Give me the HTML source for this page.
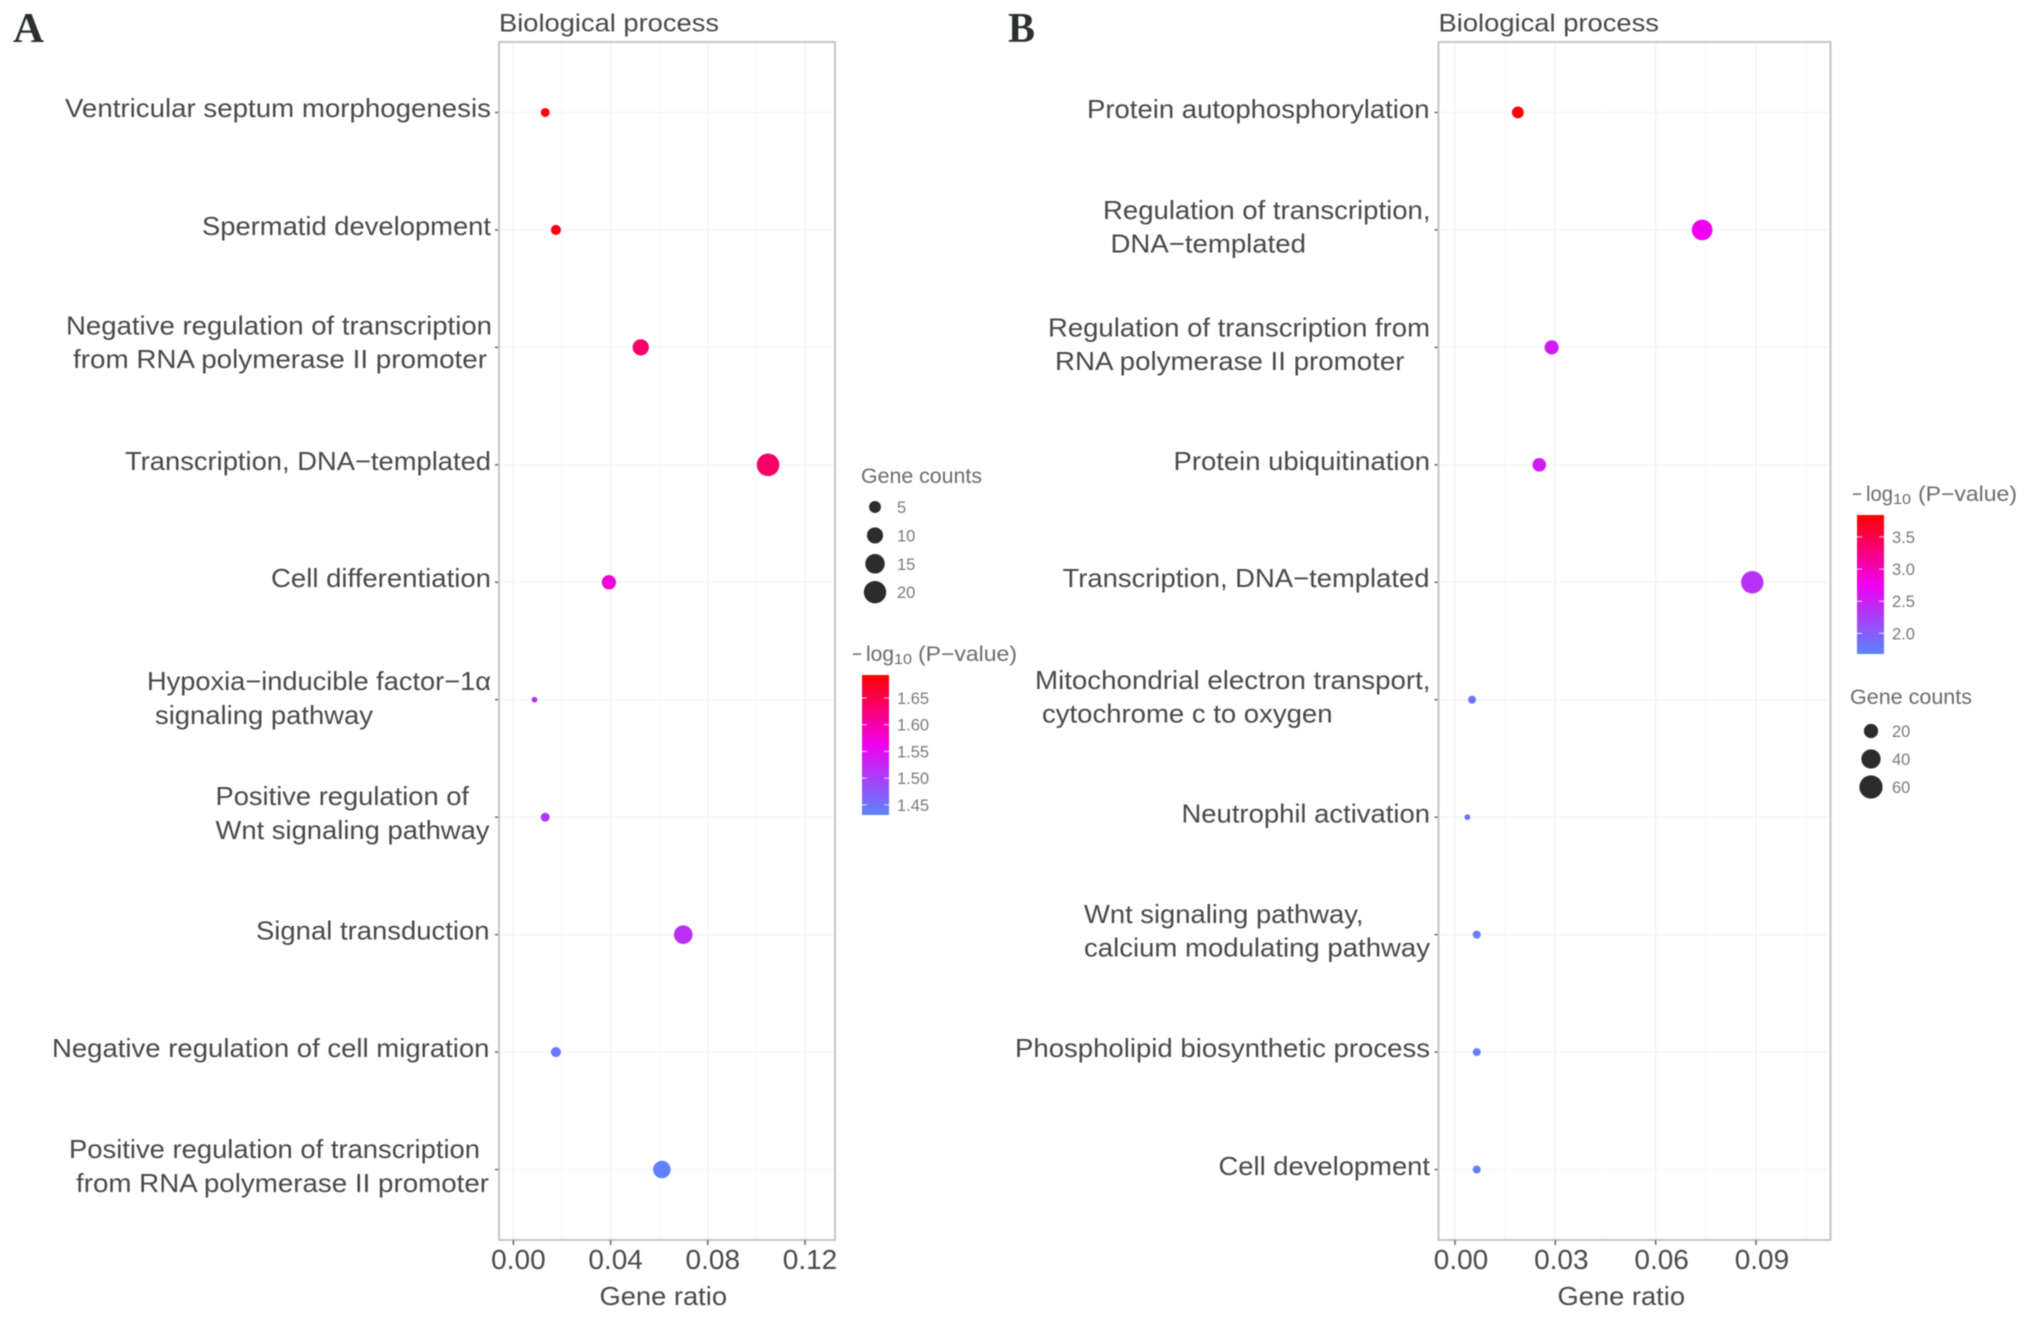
<!DOCTYPE html>
<html lang="en">
<head>
<meta charset="utf-8">
<title>Biological process dot plots</title>
<style>
html,body{margin:0;padding:0;background:#fff;}
svg{display:block;}
text{font-family:"Liberation Sans",sans-serif;}
.cat{font-size:26px;fill:#474a4a;}
.axt{font-size:26px;fill:#474a4a;}
.title{font-size:25px;fill:#474a4a;}
.leg{font-size:21px;fill:#6b6b6b;}
.panel-letter{font-family:"Liberation Serif",serif;font-weight:bold;font-size:42px;fill:#2b2f2f;}
</style>
</head>
<body>
<svg id="chart" xmlns="http://www.w3.org/2000/svg" width="2031" height="1319" viewBox="0 0 2031 1319">
<defs>
<linearGradient id="gradA" x1="0" y1="1" x2="0" y2="0"><stop offset="0" stop-color="#5b84ff"/><stop offset="0.5" stop-color="#f000f0"/><stop offset="1" stop-color="#ff0000"/></linearGradient>
<linearGradient id="gradB" x1="0" y1="1" x2="0" y2="0"><stop offset="0" stop-color="#5b84ff"/><stop offset="0.5" stop-color="#f000f0"/><stop offset="1" stop-color="#ff0000"/></linearGradient>
</defs>
<rect x="0" y="0" width="2031" height="1319" fill="#ffffff"/>
<g id="root" style="filter:blur(0.6px)">
<text class="panel-letter" x="13" y="42" textLength="31" lengthAdjust="spacingAndGlyphs">A</text>
<text class="panel-letter" x="1008" y="42" textLength="27" lengthAdjust="spacingAndGlyphs">B</text>

<text class="title" x="499" y="31.5" textLength="220" lengthAdjust="spacingAndGlyphs">Biological process</text>
<text class="title" x="1438.5" y="31.5" textLength="220.5" lengthAdjust="spacingAndGlyphs">Biological process</text>

<g id="panelA"></g>
<g id="panelB"></g>

<g>
<text class="cat" x="65" y="117" textLength="426" lengthAdjust="spacingAndGlyphs">Ventricular septum morphogenesis</text>
<text class="cat" x="202" y="235" textLength="289" lengthAdjust="spacingAndGlyphs">Spermatid development</text>
<text class="cat" x="66" y="334.5" textLength="426" lengthAdjust="spacingAndGlyphs">Negative regulation of transcription</text>
<text class="cat" x="73" y="368" textLength="414" lengthAdjust="spacingAndGlyphs">from RNA polymerase II promoter</text>
<text class="cat" x="125" y="470" textLength="366" lengthAdjust="spacingAndGlyphs">Transcription, DNA−templated</text>
<text class="cat" x="271" y="587" textLength="220" lengthAdjust="spacingAndGlyphs">Cell differentiation</text>
<text class="cat" x="147" y="690" textLength="344" lengthAdjust="spacingAndGlyphs">Hypoxia−inducible factor−1α</text>
<text class="cat" x="155" y="724" textLength="218" lengthAdjust="spacingAndGlyphs">signaling pathway</text>
<text class="cat" x="215.5" y="805" textLength="253.5" lengthAdjust="spacingAndGlyphs">Positive regulation of</text>
<text class="cat" x="215.5" y="839" textLength="274" lengthAdjust="spacingAndGlyphs">Wnt signaling pathway</text>
<text class="cat" x="256" y="939.5" textLength="233.5" lengthAdjust="spacingAndGlyphs">Signal transduction</text>
<text class="cat" x="52" y="1057" textLength="437.5" lengthAdjust="spacingAndGlyphs">Negative regulation of cell migration</text>
<text class="cat" x="69" y="1158" textLength="411" lengthAdjust="spacingAndGlyphs">Positive regulation of transcription</text>
<text class="cat" x="76" y="1192" textLength="413" lengthAdjust="spacingAndGlyphs">from RNA polymerase II promoter</text>
</g>

<g>
<text class="cat" x="1087" y="118" textLength="342.5" lengthAdjust="spacingAndGlyphs">Protein autophosphorylation</text>
<text class="cat" x="1103" y="219" textLength="327.5" lengthAdjust="spacingAndGlyphs">Regulation of transcription,</text>
<text class="cat" x="1110.5" y="252.5" textLength="195.5" lengthAdjust="spacingAndGlyphs">DNA−templated</text>
<text class="cat" x="1048" y="336.5" textLength="382" lengthAdjust="spacingAndGlyphs">Regulation of transcription from</text>
<text class="cat" x="1055" y="370" textLength="349.5" lengthAdjust="spacingAndGlyphs">RNA polymerase II promoter</text>
<text class="cat" x="1173.5" y="470" textLength="256.5" lengthAdjust="spacingAndGlyphs">Protein ubiquitination</text>
<text class="cat" x="1062.5" y="587" textLength="367" lengthAdjust="spacingAndGlyphs">Transcription, DNA−templated</text>
<text class="cat" x="1035" y="689" textLength="395.5" lengthAdjust="spacingAndGlyphs">Mitochondrial electron transport,</text>
<text class="cat" x="1042" y="722.5" textLength="290.5" lengthAdjust="spacingAndGlyphs">cytochrome c to oxygen</text>
<text class="cat" x="1181.5" y="822.5" textLength="248.5" lengthAdjust="spacingAndGlyphs">Neutrophil activation</text>
<text class="cat" x="1084" y="923" textLength="279.5" lengthAdjust="spacingAndGlyphs">Wnt signaling pathway,</text>
<text class="cat" x="1084" y="956.5" textLength="346" lengthAdjust="spacingAndGlyphs">calcium modulating pathway</text>
<text class="cat" x="1015" y="1057" textLength="415" lengthAdjust="spacingAndGlyphs">Phospholipid biosynthetic process</text>
<text class="cat" x="1218.5" y="1175" textLength="211.5" lengthAdjust="spacingAndGlyphs">Cell development</text>
</g>

<text class="axt" x="599.5" y="1305" textLength="127.5" lengthAdjust="spacingAndGlyphs">Gene ratio</text>
<text class="axt" x="1557.5" y="1305" textLength="127.5" lengthAdjust="spacingAndGlyphs">Gene ratio</text>

<text class="leg" x="861" y="483" textLength="121" lengthAdjust="spacingAndGlyphs">Gene counts</text>
<g>
<text class="leg" x="852" y="661" textLength="10" lengthAdjust="spacingAndGlyphs">−</text>
<text class="leg" x="866" y="661" textLength="28" lengthAdjust="spacingAndGlyphs">log</text>
<text class="leg" x="894" y="664" textLength="18" lengthAdjust="spacingAndGlyphs" style="font-size:15px">10</text>
<text class="leg" x="918" y="661" textLength="99" lengthAdjust="spacingAndGlyphs">(P−value)</text>
</g>

<g>
<text class="leg" x="1852" y="501" textLength="10" lengthAdjust="spacingAndGlyphs">−</text>
<text class="leg" x="1866" y="501" textLength="27" lengthAdjust="spacingAndGlyphs">log</text>
<text class="leg" x="1893" y="504" textLength="18" lengthAdjust="spacingAndGlyphs" style="font-size:15px">10</text>
<text class="leg" x="1918" y="501" textLength="99" lengthAdjust="spacingAndGlyphs">(P−value)</text>
</g>
<text class="leg" x="1850" y="704" textLength="122" lengthAdjust="spacingAndGlyphs">Gene counts</text>

<g id="legendA"></g>
<g id="legendB"></g>
</g>
</svg>

<script>
/* Panel A data */
const categoriesA = ["Ventricular septum morphogenesis","Spermatid development","Negative regulation of transcription from RNA polymerase II promoter","Transcription, DNA-templated","Cell differentiation","Hypoxia-inducible factor-1α signaling pathway","Positive regulation of Wnt signaling pathway","Signal transduction","Negative regulation of cell migration","Positive regulation of transcription from RNA polymerase II promoter"];
const geneRatioA = [0.0131,0.0175,0.0524,0.1048,0.0393,0.0087,0.0131,0.0699,0.0175,0.0611];
const geneCountA = [3,4,12,24,9,2,3,16,4,14];
const logPA = [1.69,1.685,1.635,1.635,1.575,1.51,1.51,1.515,1.445,1.435];
const xTicksA = [0,0.04,0.08,0.12];
const xTickLabelsA = ["0.00","0.04","0.08","0.12"];
const xMinorA = [0.02,0.06,0.10];
const sizeLegendCountsA = [5,10,15,20];
const sizeLegendLabelsA = ["5","10","15","20"];
const colorTicksA = [1.65,1.60,1.55,1.50,1.45];
const colorTickLabelsA = ["1.65","1.60","1.55","1.50","1.45"];
const colorDomainA = [1.431,1.693];

/* Panel B data */
const categoriesB = ["Protein autophosphorylation","Regulation of transcription, DNA-templated","Regulation of transcription from RNA polymerase II promoter","Protein ubiquitination","Transcription, DNA-templated","Mitochondrial electron transport, cytochrome c to oxygen","Neutrophil activation","Wnt signaling pathway, calcium modulating pathway","Phospholipid biosynthetic process","Cell development"];
const geneRatioB = [0.0188,0.0739,0.0289,0.0252,0.0889,0.0051,0.0037,0.0065,0.0065,0.0065];
const geneCountB = [14,52,22,20,62,4,2,4,4,4];
const logPB = [3.8,2.76,2.53,2.53,2.35,1.83,1.83,1.72,1.72,1.72];
const xTicksB = [0,0.03,0.06,0.09];
const xTickLabelsB = ["0.00","0.03","0.06","0.09"];
const xMinorB = [0.015,0.045,0.075,0.105];
const sizeLegendCountsB = [20,40,60];
const sizeLegendLabelsB = ["20","40","60"];
const colorTicksB = [3.5,3.0,2.5,2.0];
const colorTickLabelsB = ["3.5","3.0","2.5","2.0"];
const colorDomainB = [1.68,3.84];

const SVGNS = "http://www.w3.org/2000/svg";
function make(tag, parent, attrs, text) {
  const el = document.createElementNS(SVGNS, tag);
  for (const k in attrs) el.setAttribute(k, attrs[k]);
  if (text !== undefined) el.textContent = text;
  parent.appendChild(el);
  return el;
}
const LOW = [91,132,255], MID = [240,0,240], HIGH = [255,0,0];
function colorScale(v, domain) {
  let t = (v - domain[0]) / (domain[1] - domain[0]);
  t = Math.max(0, Math.min(1, t));
  const a = t < 0.5 ? LOW : MID;
  const b = t < 0.5 ? MID : HIGH;
  const u = t < 0.5 ? t * 2 : (t - 0.5) * 2;
  return "rgb(" + a.map(function (c, i) { return Math.round(c + (b[i] - c) * u); }).join(",") + ")";
}

function drawPanel(cfg) {
  const g = document.getElementById(cfg.id);
  const xScale = function (v) { return cfg.zeroX + v * cfg.pxPerUnit; };
  const n = cfg.categories.length;
  const step = (cfg.bottom - cfg.top) / (n - 1 + 1.2);
  const yScale = function (i) { return cfg.top + step * (0.6 + i); };

  cfg.minor.forEach(function (m) {
    const line = make("line", g, {x1: xScale(m), x2: xScale(m), y1: cfg.top, y2: cfg.bottom, stroke: "#fafafa", "stroke-width": 1.5});
    
    
  });
  cfg.ticks.forEach(function (t) {
    const line = make("line", g, {x1: xScale(t), x2: xScale(t), y1: cfg.top, y2: cfg.bottom, stroke: "#f3f3f3", "stroke-width": 1.5});
    
    
  });
  cfg.categories.forEach(function (c, i) {
    const line = make("line", g, {x1: cfg.left, x2: cfg.right, y1: yScale(i), y2: yScale(i), stroke: "#f5f5f5", "stroke-width": 1.5});
    
    
    const tick = make("line", g, {x1: cfg.left - 4, x2: cfg.left, y1: yScale(i), y2: yScale(i), stroke: "#666666", "stroke-width": 1.5});
    
    
  });
  const frame = make("rect", g, {x: cfg.left, y: cfg.top, width: cfg.right - cfg.left, height: cfg.bottom - cfg.top, fill: "none", stroke: "#c6c6c6", "stroke-width": 2});
  
  
  cfg.ticks.forEach(function (t, i) {
    const tick = make("line", g, {x1: xScale(t), x2: xScale(t), y1: cfg.bottom, y2: cfg.bottom + 5, stroke: "#666666", "stroke-width": 1.5});
    
    
    const label = make("text", g, {x: xScale(t) + cfg.labelShift, y: 1269, "text-anchor": "middle", "font-size": 28, fill: "#474a4a"}, cfg.tickLabels[i]);
    
    
  });
  cfg.categories.forEach(function (c, i) {
    const d = cfg.size(cfg.counts[i]);
    const dot = make("circle", g, {cx: xScale(cfg.ratios[i]), cy: yScale(i), r: d / 2, fill: colorScale(cfg.logP[i], cfg.domain)});
    
    
    make("title", dot, {}, c);
  });

  const leg = document.getElementById(cfg.legendId);
  cfg.legendCounts.forEach(function (c, i) {
    const rowY = cfg.sizeRowTop + cfg.sizeRowStep * i;
    const dot = make("circle", leg, {cx: cfg.sizeX, cy: rowY, r: cfg.size(c) * cfg.legendBoost / 2, fill: "#2b2d2d"});
    
    
    const label = make("text", leg, {x: cfg.sizeLabelX, y: rowY + 6, "font-size": 16.5, fill: "#7a7a7a"}, cfg.legendLabels[i]);
    
    
  });
  const bar = make("rect", leg, {x: cfg.barX, y: cfg.barTop, width: cfg.barW, height: cfg.barH, fill: cfg.grad});
  
  
  const barY = function (v) { return cfg.barTop + cfg.barH - (v - cfg.domain[0]) / (cfg.domain[1] - cfg.domain[0]) * cfg.barH; };
  cfg.colorTicks.forEach(function (v, i) {
    const y = barY(v);
    const t1 = make("line", leg, {x1: cfg.barX, x2: cfg.barX + 5, y1: y, y2: y, stroke: "#ffffff", "stroke-opacity": 0.7, "stroke-width": 1.2});
    
    
    const t2 = make("line", leg, {x1: cfg.barX + cfg.barW - 5, x2: cfg.barX + cfg.barW, y1: y, y2: y, stroke: "#ffffff", "stroke-opacity": 0.7, "stroke-width": 1.2});
    
    
    const label = make("text", leg, {x: cfg.barX + cfg.barW + 8, y: y + 6, "font-size": 16.5, fill: "#7a7a7a"}, cfg.colorLabels[i]);
    
    
  });
}

drawPanel({
  id: "panelA", legendId: "legendA",
  categories: categoriesA, ratios: geneRatioA, counts: geneCountA, logP: logPA,
  ticks: xTicksA, tickLabels: xTickLabelsA, minor: xMinorA,
  left: 499, right: 835, top: 42, bottom: 1240, zeroX: 513.4, pxPerUnit: 2430, labelShift: 5,
  domain: colorDomainA,
  size: function (c) { return c <= 2 ? 5.8 : Math.sqrt(60 + 20.5 * (c - 2)); },
  legendCounts: sizeLegendCountsA, legendLabels: sizeLegendLabelsA, legendBoost: 1.08,
  sizeX: 875, sizeLabelX: 897, sizeRowTop: 507, sizeRowStep: 28.4,
  barX: 862, barW: 27, barTop: 675, barH: 140, grad: "url(#gradA)",
  colorTicks: colorTicksA, colorLabels: colorTickLabelsA
});
drawPanel({
  id: "panelB", legendId: "legendB",
  categories: categoriesB, ratios: geneRatioB, counts: geneCountB, logP: logPB,
  ticks: xTicksB, tickLabels: xTickLabelsB, minor: xMinorB,
  left: 1438.5, right: 1830.5, top: 42, bottom: 1240, zeroX: 1455, pxPerUnit: 3344, labelShift: 6,
  domain: colorDomainB,
  size: function (c) { return c <= 2 ? 5.8 : Math.sqrt(64 + 7.6 * (c - 4)); },
  legendCounts: sizeLegendCountsB, legendLabels: sizeLegendLabelsB, legendBoost: 1.05,
  sizeX: 1871, sizeLabelX: 1892, sizeRowTop: 731, sizeRowStep: 28,
  barX: 1857, barW: 27, barTop: 515, barH: 139, grad: "url(#gradB)",
  colorTicks: colorTicksB, colorLabels: colorTickLabelsB
});
</script>
</body>
</html>
